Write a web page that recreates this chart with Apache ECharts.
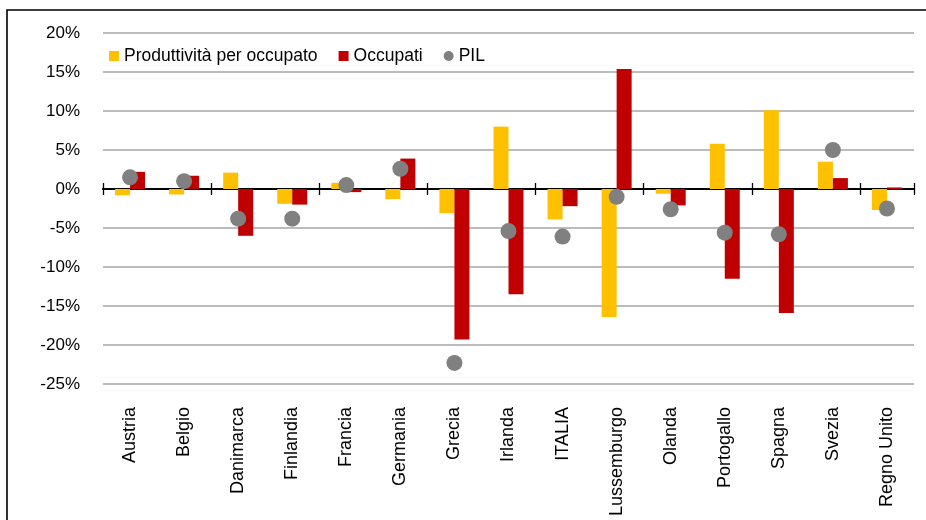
<!DOCTYPE html>
<html>
<head>
<meta charset="utf-8">
<script src="https://cdn.jsdelivr.net/npm/echarts@6/dist/echarts.min.js"></script>
<style>
  html, body { margin: 0; padding: 0; background: #fff; }
  #wrap { width: 926px; height: 520px; }
</style>
</head>
<body>
<div id="wrap"></div>
<script>
var paesi = ['Austria', 'Belgio', 'Danimarca', 'Finlandia', 'Francia', 'Germania', 'Grecia',
  'Irlanda', 'ITALIA', 'Lussemburgo', 'Olanda', 'Portogallo', 'Spagna', 'Svezia', 'Regno Unito'];

var produttivita = [-0.8, -0.7, 2.1, -1.9, 0.8, -1.3, -3.1, 8.0, -3.9, -16.4, -0.6, 5.8, 10.1, 3.5, -2.7];
var occupati = [2.2, 1.7, -6.0, -2.0, -0.4, 3.9, -19.3, -13.5, -2.2, 15.4, -2.1, -11.5, -15.9, 1.4, 0.2];
var pil = [1.5, 1.0, -3.8, -3.8, 0.5, 2.6, -22.3, -5.4, -6.1, -1.0, -2.6, -5.6, -5.8, 5.0, -2.5];

var yTicks = { min: -25, max: 20, step: 5 };

var font = 'Liberation Sans, Arial, sans-serif';

// asse categorie con tacche, una copia per lato della linea dello zero
function assePaesi(inside, yIdx) {
  return {
    type: 'category',
    data: paesi,
    position: 'bottom',
    axisLine: { onZero: true, onZeroAxisIndex: yIdx, lineStyle: { color: '#000', width: 2 } },
    axisTick: { show: true, length: 6, inside: inside, lineStyle: { color: '#000', width: 1.3 } },
    axisLabel: { show: false },
    splitLine: { show: false }
  };
}

var option = {
  animation: false,
  backgroundColor: '#fff',
  graphic: [{
    type: 'rect',
    shape: { x: 7, y: 10, width: 960, height: 560 },
    style: { fill: 'none', stroke: '#000', lineWidth: 1.6 },
    z: -1
  }],
  legend: {
    left: 104,
    top: 42,
    itemWidth: 10,
    itemHeight: 10,
    itemGap: 21,
    textStyle: { fontFamily: font, fontSize: 17.5, color: '#000' },
    data: [
      { name: 'Produttività per occupato', icon: 'rect' },
      { name: 'Occupati', icon: 'rect' },
      { name: 'PIL', icon: 'circle' }
    ]
  },
  grid: {
    left: 103,
    right: 12,
    top: 33,
    bottom: 136
  },
  xAxis: [
    assePaesi(false, 0),
    assePaesi(true, 1),
    {
      type: 'category',
      data: paesi,
      position: 'bottom',
      axisLine: { show: false, onZero: false },
      axisTick: { show: false },
      axisLabel: {
        rotate: 90,
        margin: 23,
        fontFamily: font,
        fontSize: 18,
        color: '#000'
      },
      splitLine: { show: false }
    }
  ],
  yAxis: [
    {
      type: 'value',
      min: yTicks.min,
      max: yTicks.max,
      interval: yTicks.step,
      axisLine: { show: false },
      axisTick: { show: false },
      axisLabel: {
        formatter: '{value}%',
        margin: 23,
        fontFamily: font,
        fontSize: 17,
        color: '#000'
      },
      splitLine: { lineStyle: { color: '#a6a6a6', width: 1.5 } }
    },
    {
      type: 'value',
      min: yTicks.min,
      max: yTicks.max,
      interval: yTicks.step,
      show: false,
      splitLine: { show: false }
    }
  ],
  series: [
    {
      name: 'Produttività per occupato',
      type: 'bar',
      xAxisIndex: 0,
      barWidth: 15,
      barGap: '0%',
      itemStyle: { color: '#ffc000' },
      data: produttivita
    },
    {
      name: 'Occupati',
      type: 'bar',
      xAxisIndex: 0,
      barWidth: 15,
      barGap: '0%',
      itemStyle: { color: '#c00000' },
      data: occupati
    },
    {
      name: 'PIL',
      type: 'scatter',
      xAxisIndex: 0,
      symbol: 'circle',
      symbolSize: 16,
      z: 5,
      itemStyle: { color: '#808080', opacity: 1 },
      data: pil
    }
  ]
};

var myChart = echarts.init(document.getElementById('wrap'));
myChart.setOption(option);
</script>
</body>
</html>
